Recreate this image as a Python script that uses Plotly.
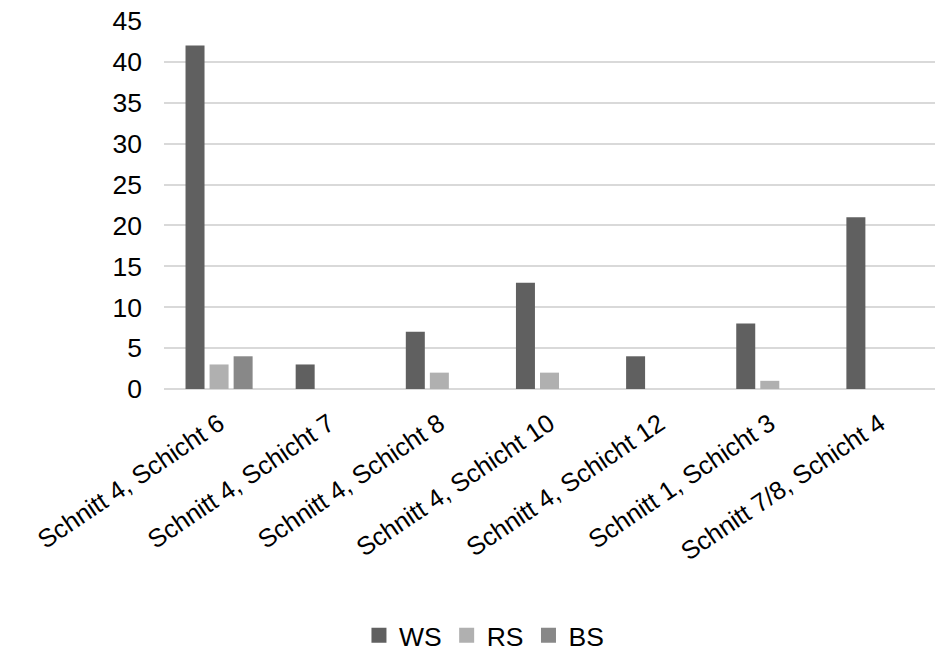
import plotly.graph_objects as go

# Sections / layers on the x axis
categories = [
    "Schnitt 4, Schicht 6",
    "Schnitt 4, Schicht 7",
    "Schnitt 4, Schicht 8",
    "Schnitt 4, Schicht 10",
    "Schnitt 4, Schicht 12",
    "Schnitt 1, Schicht 3",
    "Schnitt 7/8, Schicht 4",
]

# Counts per series
ws_values = [42, 3, 7, 13, 4, 8, 21]
rs_values = [3, 0, 2, 2, 0, 1, 0]
bs_values = [4, 0, 0, 0, 0, 0, 0]

y_ticks = [0, 5, 10, 15, 20, 25, 30, 35, 40, 45]

series = [
    ("WS", ws_values, "#606060"),
    ("RS", rs_values, "#b0b0b0"),
    ("BS", bs_values, "#888888"),
]

font_family = "Liberation Sans, Arial, sans-serif"
font_size = 26.5

fig = go.Figure()
for name, vals, color in series:
    fig.add_trace(go.Bar(
        x=categories, y=vals, name=name, showlegend=False,
        marker=dict(color=color, line=dict(width=0)),
    ))

# Legend entries with larger square swatches
for name, vals, color in series:
    fig.add_trace(go.Scatter(
        x=[None], y=[None], name=name, mode="markers",
        marker=dict(symbol="square", size=15, color=color),
    ))

fig.update_layout(
    width=935, height=652,
    margin=dict(l=164, r=0, t=21, b=263, autoexpand=False),
    paper_bgcolor="white", plot_bgcolor="white",
    barmode="group", bargap=0.345, bargroupgap=0.21,
    font=dict(family=font_family, size=font_size, color="#000000"),
    showlegend=True,
    legend=dict(
        orientation="h", x=0.415, xanchor="center", y=-0.67, yanchor="middle",
        font=dict(size=font_size, family=font_family), itemwidth=30,
        traceorder="normal", tracegroupgap=0,
    ),
    xaxis=dict(
        tickangle=-34, showgrid=False, showline=False, ticks="",
        tickfont=dict(size=25.5), ticklabelstandoff=14,
        automargin=False,
    ),
    yaxis=dict(
        range=[0, 45], tickvals=y_ticks, showgrid=True,
        gridcolor="#d9d9d9", gridwidth=1.5, zeroline=True,
        zerolinecolor="#d9d9d9", zerolinewidth=1.5, showline=False,
        ticks="", tickfont=dict(size=font_size), ticklabelstandoff=21,
        automargin=False,
    ),
)

fig.write_html("out.html")
